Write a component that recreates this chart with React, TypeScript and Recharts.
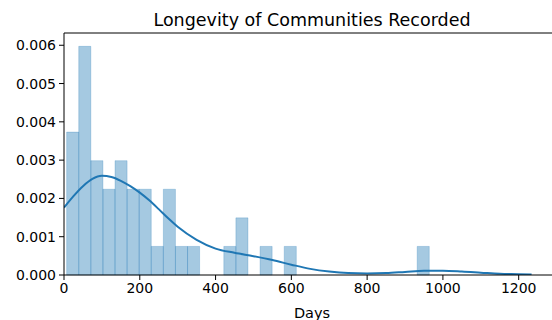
import React from 'react';
import {
  ComposedChart,
  Line,
  XAxis,
  YAxis,
  ReferenceArea,
  ReferenceLine,
} from 'recharts';

// Histogram of community lifetimes (days): 30 equal-width bins
const histMin = 7;
const histMax = 964;
const binCounts = [5, 8, 4, 3, 4, 3, 3, 1, 3, 1, 1, 0, 0, 1, 2, 0, 1, 0, 1, 0, 0, 0, 0, 0, 0, 0, 0, 0, 0, 1];
const sampleSize = 42;

// Kernel density estimate of the same sample
const kdeDays = [0, 25, 50, 75, 100, 125, 150, 175, 200, 225, 250, 275, 300, 350, 400, 450, 500, 550, 600, 650, 700, 750, 800, 850, 900, 950, 1000, 1050, 1100, 1150, 1200, 1234];
const kdeDensity = [
  0.00176, 0.00206, 0.00232, 0.00251, 0.00259, 0.00256, 0.00246, 0.00232, 0.00215, 0.00195,
  0.00172, 0.00148, 0.00126, 0.00092, 0.00069, 0.00058, 0.00049, 0.00039, 0.00027, 0.00016,
  0.00009, 0.00005, 0.00004, 0.00005, 0.00008, 0.00011, 0.00011, 0.00009, 0.00006, 0.00003,
  0.00002, 0.00001,
];

const xTicks = [0, 200, 400, 600, 800, 1000, 1200];
const yTicks = [0, 0.001, 0.002, 0.003, 0.004, 0.005, 0.006];
const xDomain: [number, number] = [0, 1309];
const yDomain: [number, number] = [0, 0.00632];

const binWidth = (histMax - histMin) / binCounts.length;
const bins = binCounts.map((count, i) => ({
  x0: histMin + i * binWidth,
  x1: histMin + (i + 1) * binWidth,
  density: count / (sampleSize * binWidth),
}));

const kdeData = kdeDays.map((day, i) => ({ day, density: kdeDensity[i] }));

const FONT = '"DejaVu Sans", sans-serif';
const BLUE = '#1f77b4';

export default function App() {
  return (
    <div
      style={{
        position: 'absolute',
        left: 0,
        top: 0,
        width: 552,
        height: 320,
        overflow: 'hidden',
        background: '#fff',
        fontFamily: FONT,
      }}
    >
      <div
        style={{
          position: 'absolute',
          left: 0,
          width: 624,
          top: 10,
          textAlign: 'center',
          fontSize: 17.5,
          color: '#000',
          lineHeight: '20px',
        }}
      >
        Longevity of Communities Recorded
      </div>
      <ComposedChart
        width={560}
        height={320}
        data={kdeData}
        margin={{ top: 33, right: 0, bottom: 0, left: 10 }}
      >
        <XAxis
          dataKey="day"
          type="number"
          domain={xDomain}
          ticks={xTicks}
          allowDataOverflow
          height={45}
          tickSize={5}
          tickMargin={3}
          stroke="#000"
          tick={{ fill: '#000', fontSize: 14, fontFamily: FONT }}
          label={{
            value: 'Days',
            position: 'insideBottom',
            offset: 2,
            fill: '#000',
            fontSize: 14.5,
            fontFamily: FONT,
          }}
        />
        <YAxis
          type="number"
          domain={yDomain}
          ticks={yTicks}
          allowDataOverflow
          width={54}
          tickSize={5}
          tickMargin={3}
          stroke="#000"
          tickFormatter={(v: number) => v.toFixed(3)}
          tick={{ fill: '#000', fontSize: 14, fontFamily: FONT }}
        />
        {bins
          .filter((b) => b.density > 0)
          .map((b, i) => (
            <ReferenceArea
              key={i}
              x1={b.x0}
              x2={b.x1}
              y1={0}
              y2={b.density}
              fill={BLUE}
              fillOpacity={0.4}
              stroke={BLUE}
              strokeOpacity={0.3}
              strokeWidth={0.8}
            />
          ))}
        <ReferenceLine y={yDomain[1]} stroke="#000" strokeWidth={1} />
        <Line
          dataKey="density"
          type="monotone"
          stroke={BLUE}
          strokeWidth={2}
          dot={false}
          isAnimationActive={false}
        />
      </ComposedChart>
    </div>
  );
}
